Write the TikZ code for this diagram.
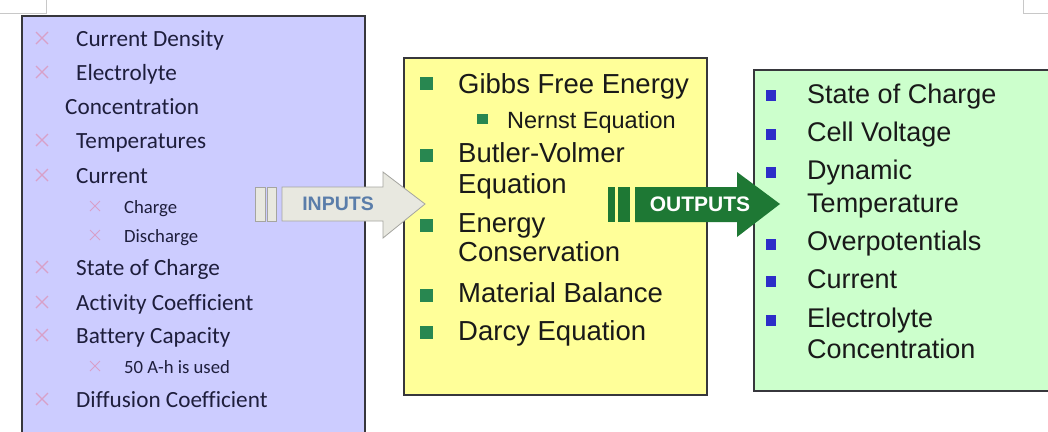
\documentclass[tikz,border=0pt]{standalone}
\usepackage{fontspec}
\setmainfont{Liberation Sans}
\newfontfamily\calibrifont{Carlito}[Ligatures=NoCommon]
\definecolor{lavfill}{RGB}{204,204,255}
\definecolor{yelfill}{RGB}{255,255,153}
\definecolor{grnfill}{RGB}{204,255,204}
\definecolor{boxline}{RGB}{55,55,60}
\definecolor{xcol}{RGB}{216,160,200}
\definecolor{lefttext}{RGB}{30,30,60}
\definecolor{sqgreen}{RGB}{40,135,80}
\definecolor{sqblue}{RGB}{45,45,200}
\definecolor{inarrow}{RGB}{232,232,224}
\definecolor{inedge}{RGB}{165,165,160}
\definecolor{intext}{RGB}{90,125,170}
\definecolor{outarrow}{RGB}{30,120,52}
\definecolor{cornergray}{RGB}{200,200,200}
\tikzset{
  panel/.style={draw=boxline, line width=2pt},
  ltxt/.style={anchor=base west, inner sep=0pt, text=lefttext,
    font=\calibrifont\fontsize{23.2}{27}\selectfont},
  lsub/.style={ltxt, font=\calibrifont\fontsize{18.7}{22}\selectfont},
  mtxt/.style={anchor=base west, inner sep=0pt, text=black!90,
    font=\fontsize{27.5}{30}\selectfont},
  msub/.style={mtxt, font=\fontsize{23.5}{27}\selectfont},
  otxt/.style={anchor=base west, inner sep=0pt, text=black!90,
    font=\fontsize{27}{30}\selectfont},
  xbul/.pic={\draw[xcol, line width=1.1pt] (-6,-6) -- (6,6) (-6,6) -- (6,-6);},
  xsub/.pic={\draw[xcol, line width=1pt] (-5,-5) -- (5,5) (-5,5) -- (5,-5);},
}
\begin{document}
\begin{tikzpicture}[x=1pt,y=-1pt]
\clip (0,0) rectangle (1048,431);
\fill[white] (0,0) rectangle (1048,431);

% page corner marks
\draw[cornergray, line width=1pt] (0,13) -- (46,13) -- (46,0);
\draw[cornergray, line width=1pt] (1023,0) -- (1023,13) -- (1048,13);

% panels
\draw[panel, fill=lavfill] (22,16) rectangle (365,450);
\draw[panel, fill=yelfill] (404,58) rectangle (707,395);
\draw[panel, fill=grnfill] (754,70) rectangle (1060,391);

% input list
\foreach \b in {46,80,148,183,275,310,343,407} \pic at (42,\b-8) {xbul};
\foreach \b in {213,242,373} \pic at (95,\b-7) {xsub};
\node[ltxt] (i1) at (76,46) {Current Density};
\node[ltxt] (i2) at (76,80) {Electrolyte};
\node[ltxt] (i2b) at (65,114) {Concentration};
\node[ltxt] (i3) at (76,148) {Temperatures};
\node[ltxt] (i4) at (76,183) {Current};
\node[lsub] (i4a) at (124,213) {Charge};
\node[lsub] (i4b) at (124,242) {Discharge};
\node[ltxt] (i5) at (76,275) {State of Charge};
\node[ltxt] (i6) at (76,310) {Activity Coefficient};
\node[ltxt] (i7) at (76,343) {Battery Capacity};
\node[lsub] (i7a) at (124,373) {50 A-h is used};
\node[ltxt] (i8) at (76,407) {Diffusion Coefficient};

% model list
\foreach \c in {83,155,225,295,332}
  \fill[sqgreen] (420,\c-6.5) rectangle (433,\c+6.5);
\fill[sqgreen] (477,114) rectangle (488,124);
\node[mtxt] (m1) at (458,93) {Gibbs Free Energy};
\node[msub] (m1a) at (507,128) {Nernst Equation};
\node[mtxt] (m2) at (458,162) {Butler-Volmer};
\node[mtxt] (m2b) at (458,193) {Equation};
\node[mtxt] (m3) at (458,232) {Energy};
\node[mtxt] (m3b) at (458,261) {Conservation};
\node[mtxt] (m4) at (458,302) {Material Balance};
\node[mtxt] (m5) at (458,340) {Darcy Equation};

% output list
\foreach \c in {95,134,172,244,281,320}
  \fill[sqblue] (766,\c-5.5) rectangle (776,\c+5.5);
\node[otxt] (o1) at (807,103) {State of Charge};
\node[otxt] (o2) at (807,141) {Cell Voltage};
\node[otxt] (o3) at (807,179) {Dynamic};
\node[otxt] (o3b) at (807,212) {Temperature};
\node[otxt] (o4) at (807,250) {Overpotentials};
\node[otxt] (o5) at (807,288) {Current};
\node[otxt] (o6) at (807,327) {Electrolyte};
\node[otxt] (o6b) at (807,358) {Concentration};

% INPUTS block arrow
\draw[fill=inarrow, draw=inedge, line width=0.8pt] (255,187) rectangle (265,221);
\draw[fill=inarrow, draw=inedge, line width=0.8pt] (267,187) rectangle (276,221);
\draw[fill=inarrow, draw=inedge, line width=0.8pt]
  (282,187) -- (383,187) -- (383,172) -- (425,204) -- (383,238) -- (383,221) -- (282,221) -- cycle;
\node[text=intext, font=\bfseries\fontsize{19.5}{22}\selectfont, inner sep=0pt] (inlabel) at (338,204) {INPUTS};

% OUTPUTS block arrow
\fill[outarrow] (608,187) rectangle (615,222);
\fill[outarrow] (618,187) rectangle (630,222);
\fill[outarrow]
  (635,187) -- (737,187) -- (737,172) -- (780,204) -- (737,237) -- (737,222) -- (635,222) -- cycle;
\node[text=white, font=\bfseries\fontsize{21}{24}\selectfont, inner sep=0pt] (outlabel) at (700,204) {OUTPUTS};
\end{tikzpicture}
\end{document}
